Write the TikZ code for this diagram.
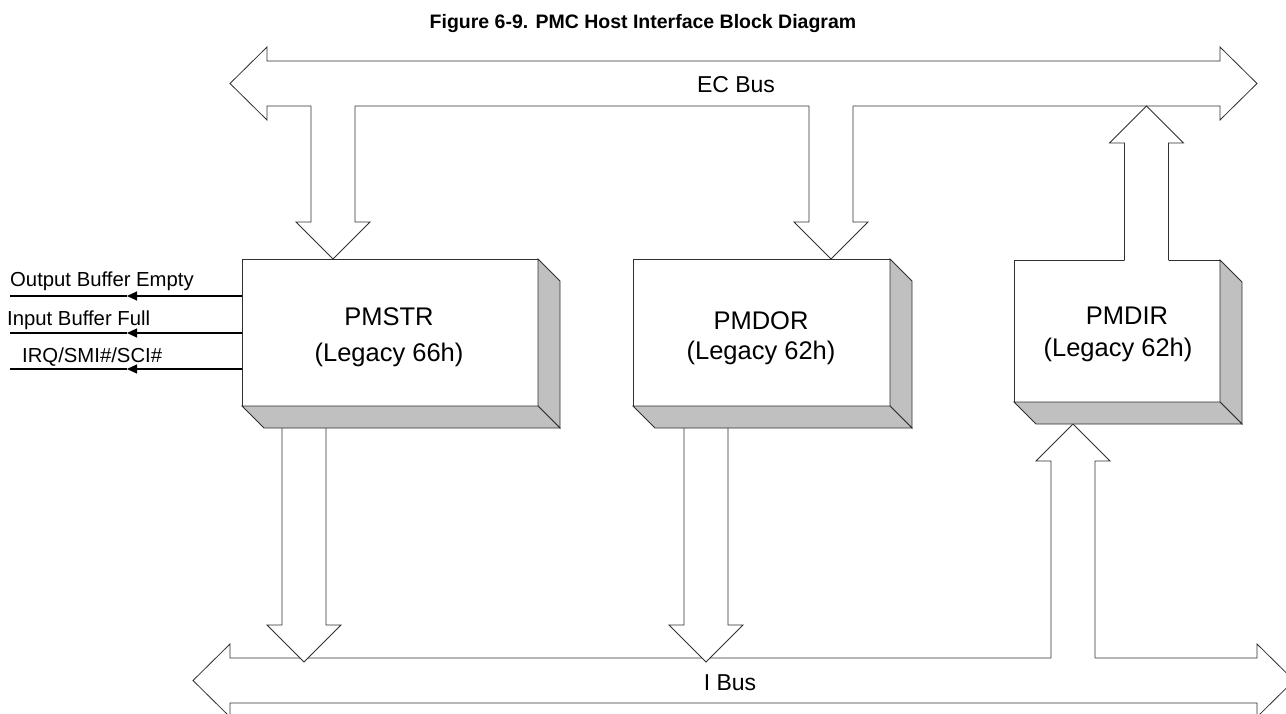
\documentclass[tikz,border=0pt]{standalone}
\usepackage{fontspec}
\setmainfont{Liberation Sans}
\usepackage{tikz}
\usetikzlibrary{arrows.meta, calc}
\usepackage{xcolor}

\definecolor{boxshade}{HTML}{C0C0C0}
\definecolor{linegray}{HTML}{303030}

% fat arrow: start, tip, direction (-1 down, 1 up)
\newcommand{\fatarrow}[3]{%
  \fill[white] ($#1+(-22,#3*1.5)$) -- ($#2+(-22,#3*37)$) -- ($#2+(-37,#3*37)$) -- #2
    -- ($#2+(37,#3*37)$) -- ($#2+(22,#3*37)$) -- ($#1+(22,#3*1.5)$) -- cycle;
  \draw[outline] ($#1+(-22,0)$) -- ($#2+(-22,#3*37)$) -- ($#2+(-37,#3*37)$) -- #2
    -- ($#2+(37,#3*37)$) -- ($#2+(22,#3*37)$) -- ($#1+(22,0)$);
}
% bus outline round a shaft node
\newcommand{\busoutline}[1]{%
  \draw[outline, fill=white] ($(#1.west)+(-37,0)$) -- ($(#1.north west)+(0,-14)$) -- (#1.north west)
    -- (#1.north east) -- ($(#1.north east)+(0,-14)$) -- ($(#1.east)+(37,0)$)
    -- ($(#1.south east)+(0,14)$) -- (#1.south east) -- (#1.south west)
    -- ($(#1.south west)+(0,14)$) -- cycle;
}

\begin{document}
\begin{tikzpicture}[x=1pt, y=-1pt,
    outline/.style={draw=linegray, line width=0.8pt, line join=miter},
    busshaft/.style={inner sep=0pt, outer sep=0pt, minimum height=45pt},
    buslabel/.style={font=\fontsize{23}{27}\selectfont},
    regbox/.style={outline, fill=white, inner sep=0pt, outer sep=0pt, minimum height=147pt},
    regtext/.style={inner sep=0pt, align=center},
    sigline/.style={draw=black, line width=1.2pt},
    siglabel/.style={anchor=base west, inner sep=0pt, font=\fontsize{20.3}{22}\selectfont}]
    \useasboundingbox (0,0) rectangle (1286,714);
    \clip (0,0) rectangle (1286,714);

    % Titulo
    \node[font=\fontsize{19.5}{23}\selectfont\bfseries] (title) at (643,24)
        {Figure 6-9. PMC Host Interface Block Diagram};

    % Barramentos
    \node[busshaft, minimum width=953pt] (ecbus) at (743.5,83.5) {};
    \busoutline{ecbus}
    \node[buslabel] (eclabel) at (736,85) {EC Bus};
    \node[busshaft, minimum width=1027pt] (ibus) at (743.5,680.5) {};
    \busoutline{ibus}
    \node[buslabel] (ilabel) at (730,683) {I Bus};

    % Registradores
    \node[regbox, minimum width=296pt] (pmstr) at (390,332.5) {};
    \node[regbox, minimum width=257pt] (pmdor) at (761.5,332.5) {};
    \node[regbox, minimum width=206pt, minimum height=142pt] (pmdir) at (1117,331) {};
    \node[regtext, font=\fontsize{25.5}{36}\selectfont] (pmstrtxt) at (389,337) {PMSTR\\(Legacy 66h)};
    \node[regtext, font=\fontsize{25.5}{30}\selectfont] (pmdortxt) at (761,338.5) {PMDOR\\(Legacy 62h)};
    \node[regtext, font=\fontsize{25.5}{32}\selectfont] (pmdirtxt) at (1118,334.5) {\hspace*{18pt}PMDIR\\(Legacy 62h)};

    \coordinate (strin) at ($(pmstr.north)+(-57,0)$);
    \coordinate (dorin) at ($(pmdor.north)+(69.5,0)$);
    \coordinate (dirout) at ($(pmdir.north)+(29.5,0)$);
    \coordinate (strout) at ($(pmstr.south)+(-86,22)$);
    \coordinate (dorout) at ($(pmdor.south)+(-55.5,22)$);
    \coordinate (dirin) at ($(pmdir.south)+(-44,22)$);

    % Setas largas
    \fatarrow{(strin |- ecbus.south)}{(strin)}{-1}
    \fatarrow{(dorin |- ecbus.south)}{(dorin)}{-1}
    \fatarrow{(dirout)}{(dirout |- ecbus.south)}{1}
    \fatarrow{(strout)}{($(strout |- ibus.north)+(0,4)$)}{-1}
    \fatarrow{(dorout)}{($(dorout |- ibus.north)+(0,4)$)}{-1}
    \fatarrow{(dirin |- ibus.north)}{(dirin)}{1}

    % Faces 3D
    \foreach \b in {pmstr,pmdor,pmdir} {
        \draw[outline, fill=boxshade] (\b.north east) -- ++(22,22) -- ($(\b.south east)+(22,22)$) -- (\b.south east) -- cycle;
        \draw[outline, fill=boxshade] (\b.south west) -- ++(22,22) -- ($(\b.south east)+(22,22)$) -- (\b.south east) -- cycle;
    }

    % Sinais
    \coordinate (obe) at (10,296);
    \coordinate (ibf) at (10,333);
    \coordinate (irq) at (10,369);
    \foreach \s in {obe,ibf,irq} {
        \draw[sigline, -{Triangle[length=10pt,width=9pt]}] (pmstr.west |- \s) -- ($(\s)+(117,0)$);
        \draw[sigline] ($(\s)+(117,0)$) -- (\s);
    }
    \node[siglabel] (obelbl) at (10,287) {Output Buffer Empty};
    \node[siglabel] (ibflbl) at (7,325) {Input Buffer Full};
    \node[siglabel] (irqlbl) at (22,362) {IRQ/SMI\#/SCI\#};
\end{tikzpicture}
\end{document}
